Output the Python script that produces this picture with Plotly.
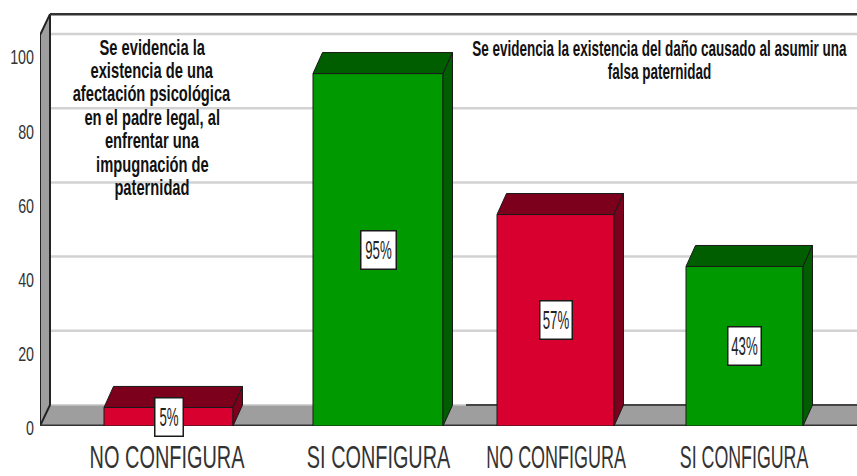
import plotly.graph_objects as go

# --- data ---
categories = ["NO CONFIGURA", "SI CONFIGURA", "NO CONFIGURA", "SI CONFIGURA"]
values = [5, 95, 57, 43]
value_labels = ["5%", "95%", "57%", "43%"]
y_ticks = [0, 20, 40, 60, 80, 100]
note_left = ["Se evidencia la", "existencia de una", "afectación psicológica", "en el padre legal, al",
             "enfrentar una", "impugnación de", "paternidad"]
note_right = ["Se evidencia la existencia del daño causado al asumir una", "falsa paternidad"]

# --- layout / style constants ---
W, H = 857, 476
FONT = "Liberation Sans"
centers = [168.5, 378, 555.5, 744.5]
label_centers = [167, 378.5, 556, 744]
widths = [129, 130, 117, 117]
box_w = [27, 34, 31, 32]
front = ["#D7002F", "#009900", "#D7002F", "#009900"]
dark = ["#7C001C", "#005E00", "#7C001C", "#005E00"]
EDGE = "#1a1a1a"
GREY = "#9E9E9E"
X0, Y0_PX = 40, 426
PX = 3.71              # pixels per unit on the value axis
DX = 9.5               # depth offset, x axis units
DY = 21 / PX           # depth offset, value units
WALL_TOP = 111
SEAM = 466
NOTE_LEFT_X, NOTE_LEFT_TOP = 152, 47.5
NOTE_RIGHT_X, NOTE_RIGHT_TOP = 659, 48.5
NOTE_STEP = 23.4


def px_to_val(p):
    return (Y0_PX - p) / PX


fig = go.Figure()

# front faces
fig.add_trace(go.Bar(
    x=centers, y=values, width=widths,
    marker=dict(color=front, line=dict(color=EDGE, width=1)),
    hoverinfo="skip", showlegend=False,
))

# top and side faces, derived from the same values
for c, w, v, d in zip(centers, widths, values, dark):
    l, r = c - w / 2, c + w / 2
    fig.add_trace(go.Scatter(
        x=[l, l + DX, r + DX, r, l], y=[v, v + DY, v + DY, v, v],
        mode="lines", fill="toself", fillcolor=d, line=dict(color=EDGE, width=1),
        hoverinfo="skip", showlegend=False))
    fig.add_trace(go.Scatter(
        x=[r, r + DX, r + DX, r, r], y=[v, v + DY, DY, 0, v],
        mode="lines", fill="toself", fillcolor=d, line=dict(color=EDGE, width=1),
        hoverinfo="skip", showlegend=False))

shapes = []
for t in y_ticks[1:]:
    shapes.append(dict(type="line", layer="below", x0=X0 + 10, x1=W, y0=t + DY, y1=t + DY,
                       line=dict(color="#D2D2D2", width=2.5)))
shapes.append(dict(type="path", layer="below",
                   path=f"M {X0},0 L {X0 + 10},{DY} L {W},{DY} L {W},0 Z",
                   fillcolor=GREY, line=dict(width=0)))
shapes.append(dict(type="line", layer="below", x0=SEAM, x1=W, y0=DY, y1=DY,
                   line=dict(color="#444444", width=2)))
shapes.append(dict(type="line", layer="below", x0=X0 + 10, x1=SEAM, y0=DY, y1=DY,
                   line=dict(color="#C4C4C4", width=1.5)))
shapes.append(dict(type="path", layer="below",
                   path=f"M {X0},0 L {X0 + 10},{DY} L {X0 + 10},{WALL_TOP} L {X0},{WALL_TOP - DY} Z",
                   fillcolor=GREY, line=dict(color="#222222", width=2)))
shapes.append(dict(type="line", layer="below", x0=X0 + 10, x1=W, y0=WALL_TOP, y1=WALL_TOP,
                   line=dict(color="#333333", width=2.5)))
shapes.append(dict(type="line", layer="below", x0=X0, x1=W, y0=0.15, y1=0.15,
                   line=dict(color="#333333", width=2)))

annotations = []
for c, v, t, bw in zip(centers, values, value_labels, box_w):
    annotations.append(dict(
        x=c, y=v / 2, text=t, showarrow=False, width=bw, height=37,
        bgcolor="white", bordercolor=EDGE, borderwidth=1.5, borderpad=0,
        font=dict(family=FONT, size=25, color="#222222")))
for i, line in enumerate(note_left):
    annotations.append(dict(
        x=NOTE_LEFT_X, y=px_to_val(NOTE_LEFT_TOP + NOTE_STEP * i), text=line, showarrow=False,
        font=dict(family=FONT, size=21.5, weight="bold", color="#111111")))
for i, line in enumerate(note_right):
    annotations.append(dict(
        x=NOTE_RIGHT_X, y=px_to_val(NOTE_RIGHT_TOP + NOTE_STEP * i), text=line, showarrow=False,
        font=dict(family=FONT, size=21.5, weight="bold", color="#111111")))

fig.update_layout(
    width=W, height=H, autosize=False,
    margin=dict(l=X0, r=0, t=0, b=H - Y0_PX),
    paper_bgcolor="white", plot_bgcolor="white",
    showlegend=False, shapes=shapes, annotations=annotations,
    xaxis=dict(range=[X0, W], tickmode="array", tickvals=label_centers, ticktext=categories,
               showgrid=False, zeroline=False, showline=False, ticks="", ticklen=0,
               tickangle=0, ticklabelstandoff=10,
               tickfont=dict(family=FONT, size=31, color="#333333")),
    yaxis=dict(range=[0, Y0_PX / PX], tickmode="array", tickvals=y_ticks,
               showgrid=False, zeroline=False, showline=False, ticks="", ticklabelstandoff=5,
               tickfont=dict(family=FONT, size=21, color="#333333")),
)

# The reference's lettering is horizontally squeezed: keep real text, scale it about its anchor.
post = """
document.body.style.margin = '0';
document.documentElement.style.overflow = 'hidden';
function squeeze(el, k, anchor, dy) {
  var b = el.getBBox();
  var cx = anchor === 'end' ? b.x + b.width : b.x + b.width / 2;
  var old = el.getAttribute('transform') || '';
  el.setAttribute('transform', old + ' translate(' + cx + ',' + (dy || 0) + ') scale(' + k + ',1) translate(' + (-cx) + ',0)');
}
var gd = document.getElementById('{plot_id}');
var xk = [0.643, 0.641, 0.58, 0.574];
gd.querySelectorAll('.xtick text').forEach(function (el, i) { squeeze(el, xk[i], 'middle', 0); });
gd.querySelectorAll('.ytick text').forEach(function (el) { squeeze(el, 0.68, 'end', 2); });
gd.querySelectorAll('.annotation-text').forEach(function (el) {
  var t = el.textContent;
  var k = t.indexOf('%') >= 0 ? 0.53 : (t.indexOf('asumir') >= 0 || t === 'falsa paternidad' ? 0.628 : 0.684);
  squeeze(el, k, 'middle', 0);
});
gd.querySelectorAll('.annotation [clip-path], .annotation-text-g [clip-path]').forEach(function (el) {
  el.removeAttribute('clip-path');
});
gd.querySelectorAll('.annotation-text').forEach(function (el) {
  el.style.clipPath = 'none';
});
"""

fig.write_html("out.html", post_script=post, config={"displayModeBar": False})
